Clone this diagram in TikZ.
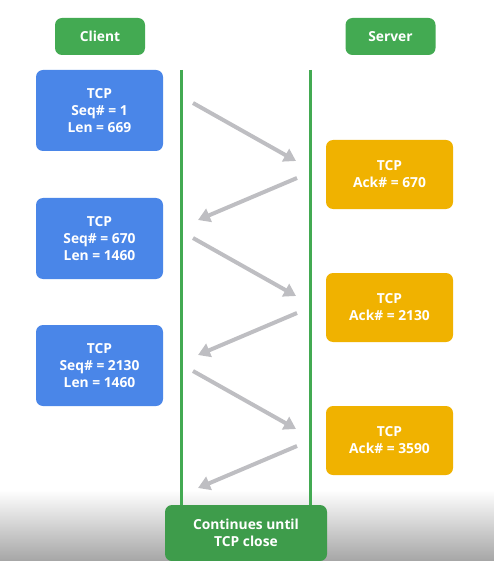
\documentclass[tikz,border=0pt]{standalone}
\usepackage{fontspec}
\setmainfont{Open Sans}
\usetikzlibrary{arrows.meta}
\definecolor{gGreen}{RGB}{67,170,82}
\definecolor{gBlue}{RGB}{74,134,232}
\definecolor{gYellow}{RGB}{240,178,0}
\definecolor{gArrow}{RGB}{190,190,194}

\begin{document}
\begin{tikzpicture}[x=1pt,y=-1pt,
  box/.style={rectangle,rounded corners=7pt,text=white,font=\bfseries\fontsize{13.8}{17}\selectfont,align=center,inner sep=0pt},
  hdr/.style={box,fill=gGreen,minimum width=90pt,minimum height=37pt},
  seg/.style={box,fill=gBlue,minimum width=127pt,minimum height=81pt},
  ack/.style={box,fill=gYellow,minimum width=127pt,minimum height=69pt},
  msg/.style={gArrow,line width=4pt,-{Triangle[length=12pt,width=14pt]}},
  life/.style={gGreen,line width=3pt}]
\useasboundingbox (0,0) rectangle (494,561);
% video fade at the bottom
\shade[top color=white,bottom color=gray!70] (0,490) rectangle (494,561);

\node[hdr] (client) at (100,36.5) {Client};
\node[hdr] (server) at (390.5,36.5) {Server};

\foreach \n/\y/\s/\l in {1/110.5/1/669,2/238.5/670/1460,3/365.5/2130/1460}
  \node[seg] (seg\n) at (99.5,\y) {TCP\\Seq\# = \s\\Len = \l};
\foreach \n/\y/\a in {1/174.5/670,2/307.5/2130,3/440.5/3590}
  \node[ack] (ack\n) at (389.5,\y) {TCP\\Ack\# = \a};

\node[box,fill=gGreen!92!black,minimum width=162pt,minimum height=56pt] (close) at (246,533) {Continues until\\TCP close};

% lifelines
\coordinate (ctop) at (181,70);
\coordinate (stop) at (310,70);
\draw[life] (ctop) -- (ctop |- close.north);
\draw[life] (stop) -- (stop |- close.north);

% segments and acks
\foreach \n/\ys in {1/103,2/238,3/371} {
  \coordinate (out\n) at (193,\ys);
  \coordinate (in\n) at (296,\ys+58);
  \coordinate (back\n) at (297,\ys+75);
  \coordinate (ret\n) at (198,\ys+117);
  \draw[msg] (out\n) -- (in\n);
  \draw[msg] (back\n) -- (ret\n);
}
\end{tikzpicture}
\end{document}
